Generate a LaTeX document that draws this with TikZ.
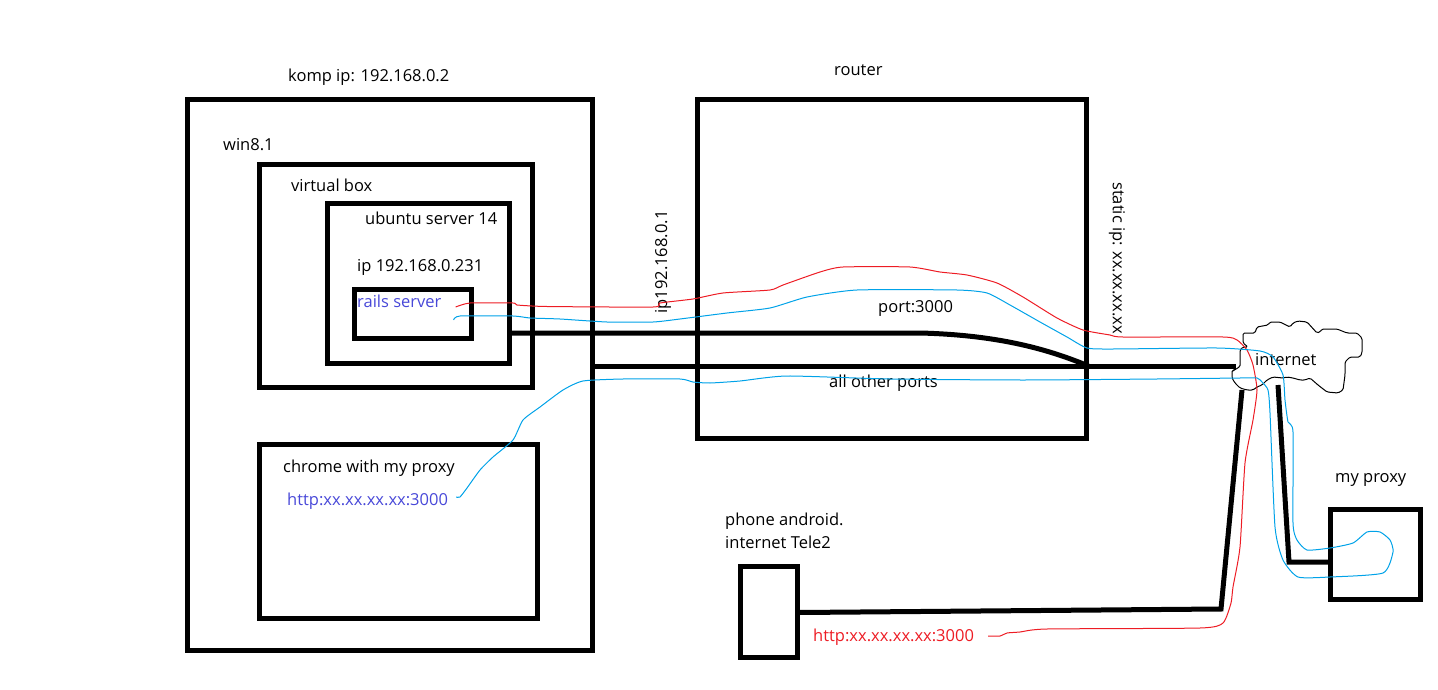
\documentclass[tikz,border=0pt]{standalone}
\usepackage{fontspec}
\setmainfont{Open Sans}
\usepackage{tikz}
\usetikzlibrary{positioning,calc}
\definecolor{wirered}{HTML}{ED1C24}
\definecolor{wireblue}{HTML}{00A2E8}
\definecolor{txtblue}{HTML}{4848D8}

\begin{document}
\begin{tikzpicture}[
			x=1pt,y=-1pt,
			every node/.style={font=\fontsize{16.5}{19}\selectfont,inner sep=0pt},
			box/.style={draw,line width=5pt,inner sep=0pt},
			lbl/.style={anchor=base west},
			wire/.style={line width=5pt},
			cloudline/.style={line width=1pt,rounded corners=1.5pt},
			redline/.style={draw=wirered,line width=1pt},
			blueline/.style={draw=wireblue,line width=1pt}
			]
			\useasboundingbox (0,0) rectangle (1438,690);
			% boxes
			\node[box,minimum width=405,minimum height=551] (komp) at (390,375) {};
			\node[box,minimum width=273,minimum height=222] (vbox) at (395.5,276) {};
			\node[box,minimum width=182,minimum height=160] (ubuntu) at (418.5,283) {};
			\node[box,minimum width=117,minimum height=49] (rails) at (413,314) {};
			\node[box,minimum width=278,minimum height=174] (chrome) at (398,531.5) {};
			\node[box,minimum width=389,minimum height=338] (router) at (891.5,269) {};
			\node[box,minimum width=57,minimum height=91] (phone) at (768.5,611.5) {};
			\node[box,minimum width=90,minimum height=90] (proxy) at (1375.5,554) {};
			% labels
			\node[lbl] (kompip) at (288,82) {komp ip: 192.168.0.2};
			\node[lbl] (win) at (223,150) {win8.1};
			\node[lbl] (vbtxt) at (291,191) {virtual box};
			\node[lbl] (ubtxt) at (365,224) {ubuntu server 14};
			\node[lbl] (iptxt) at (357,271) {ip 192.168.0.231};
			\node[lbl,text=txtblue] (railstxt) at (357,307) {rails server};
			\node[lbl] (chrometxt) at (283,472) {chrome with my proxy};
			\node[lbl,text=txtblue] (urlpc) at (287,505) {http:xx.xx.xx.xx:3000};
			\node[lbl] (routertxt) at (834,76) {router};
			\node[lbl] (porttxt) at (878,312) {port:3000};
			\node[lbl] (othertxt) at (829,387) {all other ports};
			\node[lbl] (proxytxt) at (1335,482) {my proxy};
			\node[lbl] (phonetxt) at (725,525) {phone android.};
			\node[lbl] (teletxt) at (725,548) {internet Tele2};
			\node[lbl,text=wirered] (urlphone) at (813,641) {http:xx.xx.xx.xx:3000};
			\node[rotate=90] (gwip) at (663,262) {ip192.168.0.1};
			\node[rotate=-90] (statictxt) at (1117,258) {static ip: xx.xx.xx.xx};
			% internet cloud
			\draw[cloudline] (1243,333) -- (1255,333) -- (1257,327) -- (1268,325) -- (1270,322) -- (1280,322)
				-- (1290,327) -- (1293,323) -- (1298,321) -- (1307,322) -- (1317,333) -- (1320,332) -- (1322,329)
				-- (1337,329) -- (1347,333) -- (1357,333) -- (1362,338) -- (1362,353) -- (1360,357) -- (1350,357)
				-- (1345,362) -- (1345,375) -- (1343,390) -- (1338,393) -- (1327,392) -- (1318,385) -- (1310,378)
				-- (1305,380) -- (1300,380) -- (1293,378) -- (1287,377) -- (1283,378) -- (1273,377) -- (1267,380)
				-- (1262,385) -- (1257,387) -- (1253,390) -- (1247,390) -- (1240,388) -- (1235,383) -- (1232,378)
				-- (1232,370) -- (1235,370) -- (1237,368) -- (1240,367) -- (1240,350) -- (1243,347) -- (1248,347)
				-- (1243,343) -- cycle;
			\node[lbl] (inettxt) at (1255,365) {internet};
			\coordinate (inetW) at (1236,366);
			\coordinate (inetSW) at (1242,390);
			\coordinate (inetS) at (1278,385);
			% cables
			\coordinate (rport) at (router.east |- inetW);
			\draw[wire] ($(ubuntu.east)+(0,50)$) -- (920,333) .. controls (1000,335) and (1050,350) .. (rport);
			\draw[wire] (komp.east |- inetW) -- (rport) -- (inetW);
			\draw[wire] (inetSW) -- (1221,609) -- ($(phone.east)+(0,1)$);
			\draw[wire] (inetS) -- (1289,562) -- ($(proxy.west)+(0,8)$);
			% request from the phone
			\coordinate (railsred) at ($(railstxt.base east)+(14,0)$);
			\coordinate (phonered) at ($(urlphone.base east)+(14,-5)$);
			\draw[redline] plot[smooth,tension=0.35] coordinates {(railsred) (470,303) (513,303) (517,305)
				(547,306.5) (653,307) (660,303) (693,299) (723,293) (770,290) (783,285) (820,272) (843,267)
				(910,267) (940,272) (967,275) (997,283) (1023,297) (1057,318) (1083,330) (1110,335) (1123,337)
				(1223,337) (1237,340) (1247,350) (1253,365) (1257,390) (1253,420) (1245,463) (1240,547)
				(1233,587) (1231,603) (1223,623) (1200,628) (1047,629) (1020,632) (1007,633) (1000,636) (phonered)};
			% request from chrome through my proxy
			\coordinate (railsblue) at ($(railstxt.base east)+(12,13)$);
			\coordinate (pcblue) at ($(urlpc.base east)+(8,-8)$);
			\draw[blueline] plot[smooth,tension=0.35] coordinates {(railsblue) (460,316) (513,316) (530,318)
				(560,319) (607,322) (653,322) (680,319) (727,313) (770,308) (807,297) (857,290) (957,290)
				(987,293) (1010,305) (1040,322) (1067,337) (1087,348) (1113,349) (1217,348) (1260,351)
				(1273,357) (1283,375) (1285,400) (1288,422) (1293,432) (1293,523) (1297,540) (1307,550)
				(1330,548) (1353,543) (1367,532) (1380,532) (1390,540) (1393,552) (1383,573) (1330,577)
				(1298,577) (1283,560) (1275,527) (1270,413) (1268,390) (1262,382) (1257,378) (1240,378)
				(1157,379) (1023,380) (890,379) (787,376) (740,381) (710,383) (693,382) (680,379) (623,379)
				(583,381) (563,390) (540,407) (523,420) (513,440) (493,457) (480,470) (467,488) (460,497) (pcblue)};
		\end{tikzpicture}
\end{document}
